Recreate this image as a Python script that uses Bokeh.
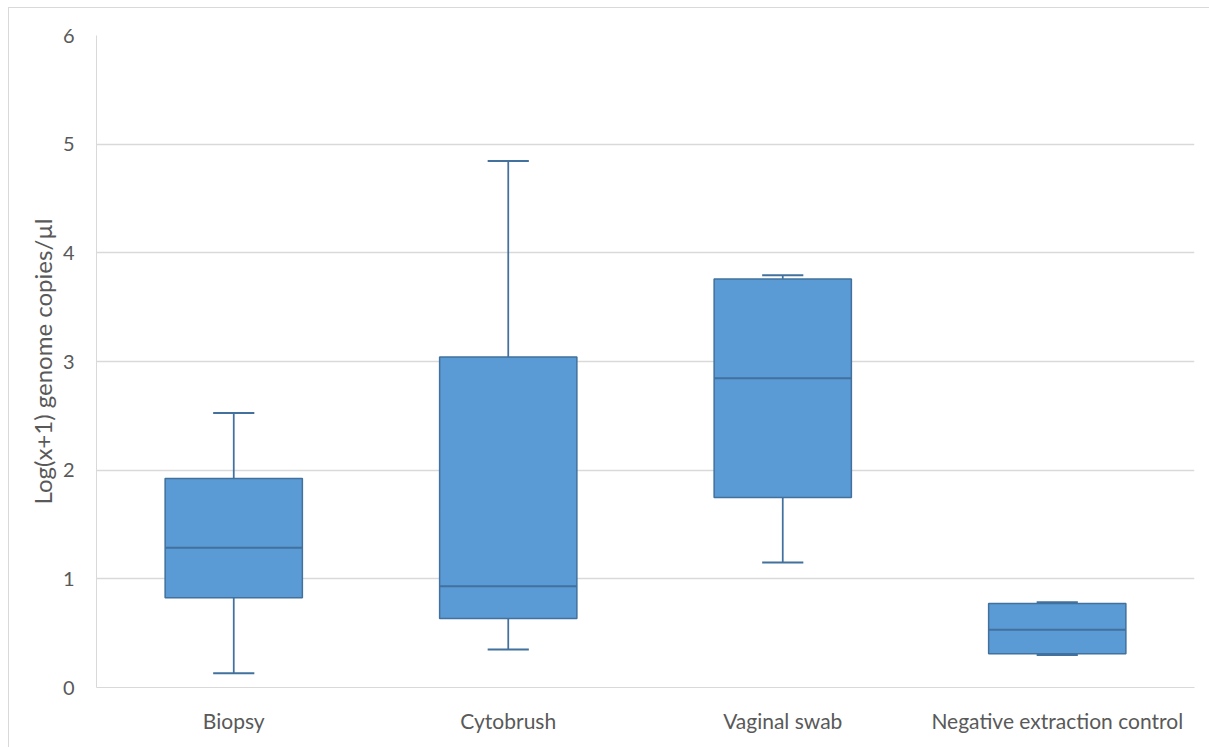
from bokeh.plotting import figure
from bokeh.models import ColumnDataSource, FactorRange, Range1d, FixedTicker
from bokeh.transform import dodge
from bokeh.embed import file_html
from bokeh.resources import INLINE

categories = ["Biopsy", "Cytobrush", "Vaginal swab", "Negative extraction control"]
whisker_min = [0.13, 0.35, 1.15, 0.30]
q1 = [0.826, 0.636, 1.748, 0.311]
median = [1.286, 0.932, 2.847, 0.532]
q3 = [1.923, 3.041, 3.760, 0.772]
whisker_max = [2.525, 4.846, 3.794, 0.785]
y_ticks = [0, 1, 2, 3, 4, 5, 6]

src = ColumnDataSource(dict(cat=categories, lo=whisker_min, q1=q1, med=median,
                            q3=q3, hi=whisker_max))

FONT = "Lato"
TXT = "#595959"
GRID = "#d9d9d9"
EDGE = "#41719c"
FILL = "#5b9bd5"

p = figure(x_range=FactorRange(*categories, range_padding=0), y_range=Range1d(0, 6),
           width=1201, height=740, output_backend="svg", toolbar_location=None,
           min_border_left=87, min_border_right=16, min_border_top=27, min_border_bottom=61)
p.styles = {"margin-left": "8px", "margin-top": "7px",
            "border-left": "1px solid #d9d9d9", "border-top": "1px solid #d9d9d9"}
p.outline_line_color = None
p.background_fill_color = "white"

# whiskers
p.segment(x0="cat", y0="q3", x1="cat", y1="hi", source=src, line_color=EDGE, line_width=1.75)
p.segment(x0="cat", y0="lo", x1="cat", y1="q1", source=src, line_color=EDGE, line_width=1.75)
xl = dodge("cat", -0.075, range=p.x_range)
xr = dodge("cat", 0.075, range=p.x_range)
p.segment(x0=xl, y0="hi", x1=xr, y1="hi", source=src, line_color=EDGE, line_width=2)
p.segment(x0=xl, y0="lo", x1=xr, y1="lo", source=src, line_color=EDGE, line_width=2)

# boxes
p.vbar(x="cat", width=0.5, bottom="q1", top="q3", source=src,
       fill_color=FILL, line_color=EDGE, line_width=1.5)
bl = dodge("cat", -0.25, range=p.x_range)
br = dodge("cat", 0.25, range=p.x_range)
p.segment(x0=bl, y0="med", x1=br, y1="med", source=src, line_color=EDGE, line_width=2)

# axes
p.yaxis.ticker = FixedTicker(ticks=y_ticks)
p.yaxis.axis_line_color = GRID
p.yaxis.major_tick_line_color = None
p.yaxis.minor_tick_line_color = None
p.yaxis.major_label_text_font = FONT
p.yaxis.major_label_text_font_size = "20px"
p.yaxis.major_label_text_color = TXT
p.yaxis.major_label_standoff = 16
p.yaxis.axis_label = "Log(x+1) genome copies/µl"
p.yaxis.axis_label_text_font = FONT
p.yaxis.axis_label_text_font_size = "24px"
p.yaxis.axis_label_text_font_style = "normal"
p.yaxis.axis_label_text_color = TXT
p.yaxis.axis_label_standoff = 3

p.xaxis.axis_line_color = GRID
p.xaxis.major_tick_line_color = None
p.xaxis.minor_tick_line_color = None
p.xaxis.major_label_text_font = FONT
p.xaxis.major_label_text_font_size = "21px"
p.xaxis.major_label_text_color = TXT
p.xaxis.major_label_standoff = 14

p.xgrid.grid_line_color = None
p.ygrid.grid_line_color = GRID
p.ygrid.grid_line_width = 1.5

open("out.html", "w").write(file_html(p, INLINE))
